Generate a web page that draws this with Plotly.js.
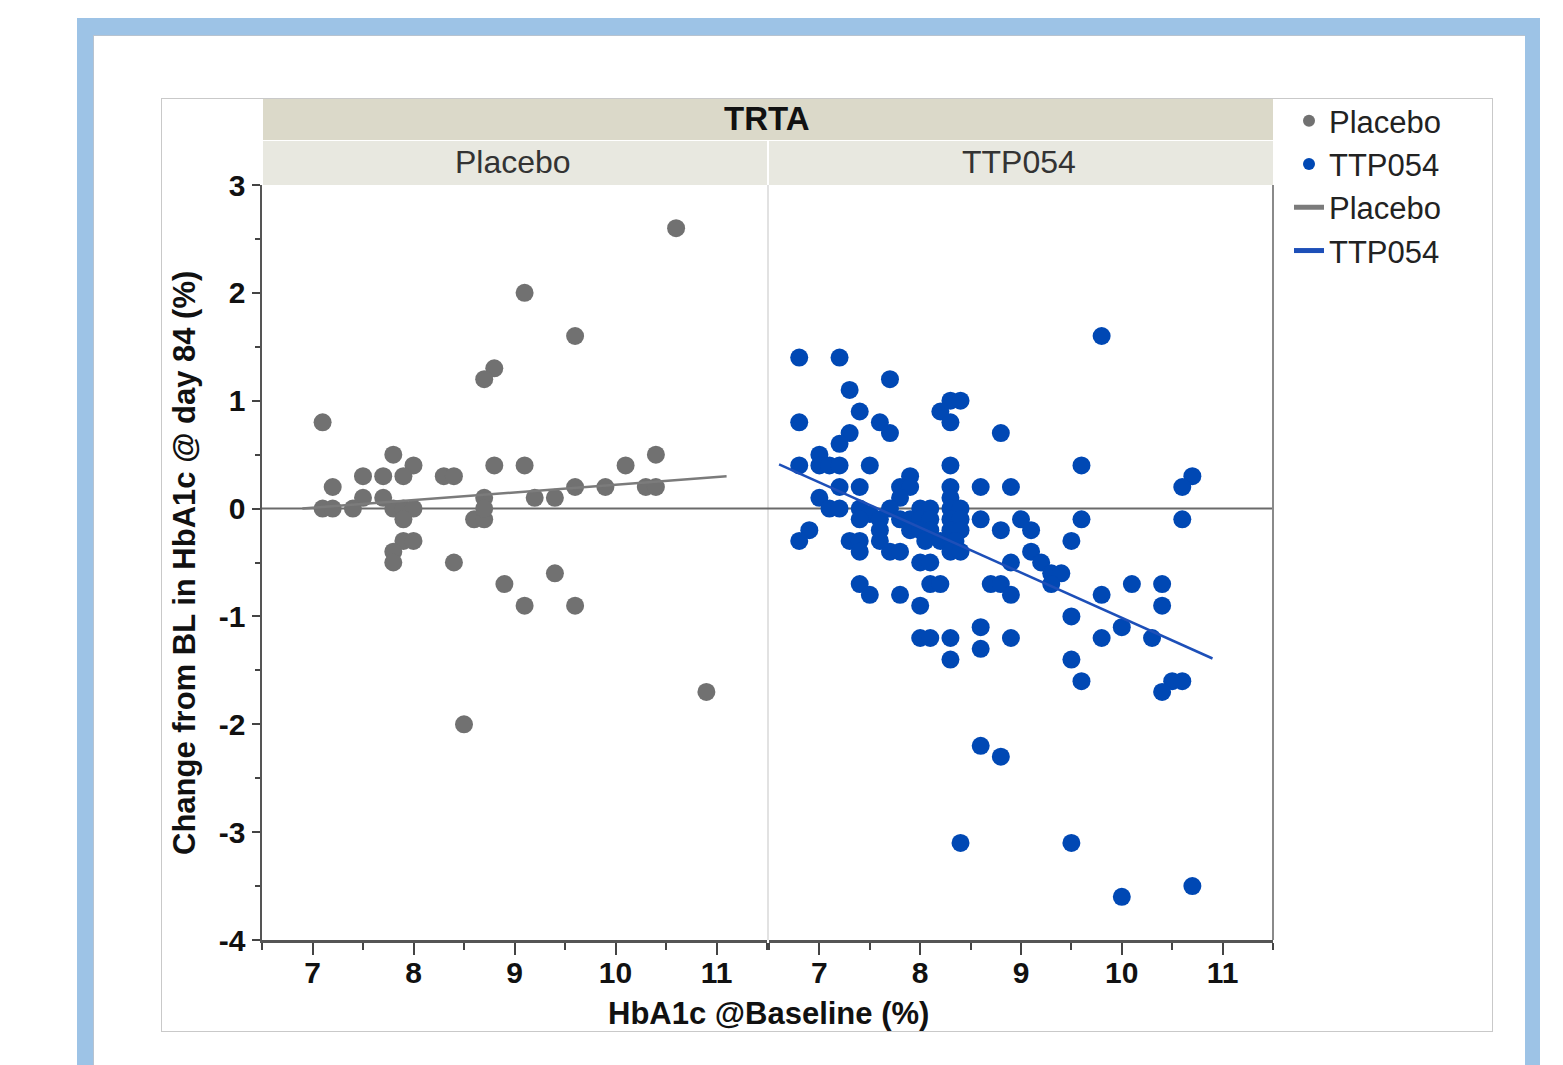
<!DOCTYPE html>
<html>
<head>
<meta charset="utf-8">
<script src="https://cdn.plot.ly/plotly-3.0.1.min.js"></script>
<style>
  html, body { margin:0; padding:0; background:#fff; }
  body { width:1563px; height:1065px; overflow:hidden; position:relative; }
  #frame { position:absolute; left:77px; top:18px; width:1463px; height:1100px; background:#9dc3e6; }
  #inner { position:absolute; left:93px; top:35px; width:1431px; height:1100px; background:#fff; border-left:1px solid #b7c3d0; border-top:1px solid #b7c3d0; }
  #box { position:absolute; left:161px; top:98px; width:1330px; height:932px; border:1px solid #c9c9c9; background:#fff; }
  #chart { position:absolute; left:0; top:0; width:1563px; height:1065px; }
</style>
</head>
<body>
<div id="frame"></div>
<div id="inner"></div>
<div id="box"></div>
<div id="chart"></div>
<script>
// ---- Data ----
const placeboX = [10.6, 9.1, 9.6, 8.8, 8.7, 7.1, 7.8, 8.0, 7.9, 7.5, 7.7, 8.3, 8.4, 8.8, 9.1, 10.1, 10.4,
  7.2, 7.5, 7.7, 8.7, 9.2, 9.4, 9.6, 9.9, 10.3, 10.4, 7.1, 7.2, 7.4, 7.8, 7.9, 8.0, 7.9, 8.6, 8.7, 8.7,
  7.9, 8.0, 7.8, 7.8, 8.4, 8.9, 9.4, 9.1, 9.6, 10.9, 8.5];
const placeboY = [2.6, 2.0, 1.6, 1.3, 1.2, 0.8, 0.5, 0.4, 0.3, 0.3, 0.3, 0.3, 0.3, 0.4, 0.4, 0.4, 0.5,
  0.2, 0.1, 0.1, 0.1, 0.1, 0.1, 0.2, 0.2, 0.2, 0.2, 0.0, 0.0, 0.0, 0.0, 0.0, 0.0, -0.1, -0.1, -0.1, 0.0,
  -0.3, -0.3, -0.4, -0.5, -0.5, -0.7, -0.6, -0.9, -0.9, -1.7, -2.0];

const ttpX = [9.8, 6.8, 7.2, 7.7, 7.3, 7.4, 8.3, 8.4, 8.2, 8.3, 6.8, 7.6, 7.7, 8.8, 7.3, 7.2, 7.0,
  7.0, 7.1, 7.2, 6.8, 7.5, 8.3, 9.6, 10.7, 7.9, 7.8, 7.9, 7.2, 7.4, 8.3, 8.6, 8.9, 10.6, 7.0, 7.8, 8.3,
  7.1, 7.2, 7.4, 7.5, 7.7, 8.0, 8.1, 8.3, 8.4, 9.6, 10.6, 9.0, 9.1, 8.8, 8.6, 9.5, 6.9, 6.8, 7.3, 7.4,
  7.4, 9.1, 8.9, 9.2, 9.3, 9.4, 8.0, 8.1, 7.4, 7.6, 7.8, 7.9, 8.0, 8.1, 8.3, 8.4, 7.6, 7.9, 8.0, 8.1,
  8.3, 8.4, 7.6, 8.05, 8.2, 8.35, 7.7, 7.8, 8.3, 8.4, 7.4, 7.5, 7.8, 8.1, 8.2, 8.0, 8.7, 8.8, 8.9, 9.3,
  9.8, 10.1, 10.4, 10.4, 9.5, 10.0, 9.8, 10.3, 8.0, 8.1, 8.3, 8.6, 8.9, 8.3, 8.6, 9.5, 9.6, 10.5, 10.6,
  10.4, 8.6, 8.8, 8.4, 9.5, 10.7, 10.0];
const ttpY = [1.6, 1.4, 1.4, 1.2, 1.1, 0.9, 1.0, 1.0, 0.9, 0.8, 0.8, 0.8, 0.7, 0.7, 0.7, 0.6, 0.5,
  0.4, 0.4, 0.4, 0.4, 0.4, 0.4, 0.4, 0.3, 0.3, 0.2, 0.2, 0.2, 0.2, 0.2, 0.2, 0.2, 0.2, 0.1, 0.1, 0.1,
  0.0, 0.0, 0.0, -0.05, 0.0, 0.0, 0.0, 0.0, 0.0, -0.1, -0.1, -0.1, -0.2, -0.2, -0.1, -0.3, -0.2, -0.3, -0.3, -0.3,
  -0.4, -0.4, -0.5, -0.5, -0.6, -0.6, -0.5, -0.5, -0.1, -0.1, -0.1, -0.1, -0.1, -0.1, -0.1, -0.1, -0.2, -0.2, -0.2, -0.2,
  -0.2, -0.2, -0.3, -0.3, -0.3, -0.3, -0.4, -0.4, -0.4, -0.4, -0.7, -0.8, -0.8, -0.7, -0.7, -0.9, -0.7, -0.7, -0.8, -0.7,
  -0.8, -0.7, -0.7, -0.9, -1.0, -1.1, -1.2, -1.2, -1.2, -1.2, -1.2, -1.1, -1.2, -1.4, -1.3, -1.4, -1.6, -1.6, -1.6,
  -1.7, -2.2, -2.3, -3.1, -3.1, -3.5, -3.6];

// Fit lines (end points)
const placeboLineX = [6.9, 11.1];
const placeboLineY = [0.0, 0.3];
const ttpLineX = [6.6, 10.9];
const ttpLineY = [0.41, -1.39];

// Tick labels
const xTickVals = [7, 8, 9, 10, 11];
const xTickText = ['7', '8', '9', '10', '11'];
const yTickVals = [-4, -3, -2, -1, 0, 1, 2, 3];
const yTickText = ['-4', '-3', '-2', '-1', '0', '1', '2', '3'];

const groupNames = ['Placebo', 'TTP054'];
const stripTitle = 'TRTA';
const xTitle = 'HbA1c @Baseline (%)';
const yTitle = 'Change from BL in HbA1c @ day 84 (%)';

// ---- Styles ----
const FONT = 'Arial, "Liberation Sans", sans-serif';
const GREY = '#717171';
const BLUE = '#0048b4';

const traces = [
  { type:'scatter', mode:'markers', name:groupNames[0], x:placeboX, y:placeboY, xaxis:'x', yaxis:'y',
    marker:{ color:GREY, size:18 }, hoverinfo:'x+y' },
  { type:'scatter', mode:'markers', name:groupNames[1], x:ttpX, y:ttpY, xaxis:'x2', yaxis:'y',
    marker:{ color:BLUE, size:18 }, hoverinfo:'x+y' },
  { type:'scatter', mode:'lines', name:groupNames[0], x:placeboLineX, y:placeboLineY, xaxis:'x', yaxis:'y',
    line:{ color:'#7b7b7b', width:2.5 } },
  { type:'scatter', mode:'lines', name:groupNames[1], x:ttpLineX, y:ttpLineY, xaxis:'x2', yaxis:'y',
    line:{ color:'#1d4fb8', width:2.5 } }
];

const W = 1011, H = 755, L = 262, T = 185;
const px = v => (v - L) / W;
const py = v => (T + H - v) / H;

const xCommon = {
  range:[6.5, 11.5], tickvals:xTickVals, ticktext:xTickText,
  ticks:'outside', ticklen:12, tickwidth:2, tickcolor:'#444',
  showline:true, linecolor:'#555', linewidth:3, showgrid:false, zeroline:false,
  ticklabelstandoff:-8,
  tickfont:{ family:FONT, size:30, color:'#111', weight:'bold' },
  minor:{ dtick:0.5, ticks:'outside', ticklen:7, tickwidth:2, tickcolor:'#444', showgrid:false },
  fixedrange:true
};

const layout = {
  width:1563, height:1065,
  margin:{ l:L, r:1563 - L - W, t:T, b:1065 - T - H, pad:0 },
  paper_bgcolor:'rgba(0,0,0,0)', plot_bgcolor:'rgba(0,0,0,0)',
  font:{ family:FONT, color:'#222' },
  showlegend:true,
  legend:{ x:px(1289), y:py(94), xanchor:'left', yanchor:'top', bgcolor:'rgba(0,0,0,0)',
           font:{ family:FONT, size:31, color:'#222' }, itemsizing:'constant', tracegroupgap:0 },
  xaxis: Object.assign({}, xCommon, { domain:[0, px(767)], anchor:'y' }),
  xaxis2: Object.assign({}, xCommon, { domain:[px(769), 1], anchor:'y' }),
  yaxis: {
    range:[-4, 3], tickvals:yTickVals, ticktext:yTickText,
    ticks:'outside', ticklen:8, tickwidth:2, tickcolor:'#444',
    showline:true, linecolor:'#555', linewidth:2.5, showgrid:false, zeroline:false,
    tickfont:{ family:FONT, size:30, color:'#111', weight:'bold' },
    minor:{ dtick:0.5, ticks:'outside', ticklen:5, tickwidth:2, tickcolor:'#444', showgrid:false },
    fixedrange:true
  },
  shapes:[
    { type:'rect', xref:'paper', yref:'paper', x0:px(263), x1:1, y0:py(140), y1:py(99),
      fillcolor:'#dbd9c9', line:{ width:0 } },
    { type:'rect', xref:'paper', yref:'paper', x0:px(263), x1:px(767), y0:1, y1:py(141),
      fillcolor:'#e8e8e0', line:{ width:0 } },
    { type:'rect', xref:'paper', yref:'paper', x0:px(769), x1:1, y0:1, y1:py(141),
      fillcolor:'#e8e8e0', line:{ width:0 } },
    { type:'line', xref:'paper', yref:'paper', x0:px(768), x1:px(768), y0:0, y1:1,
      line:{ color:'#e2e2e2', width:2 }, layer:'below' },
    { type:'line', xref:'paper', yref:'paper', x0:1, x1:1, y0:0, y1:1,
      line:{ color:'#8a8a8a', width:2 } },
    { type:'line', xref:'paper', yref:'y', x0:0, x1:1, y0:0, y1:0,
      line:{ color:'#6a6a6a', width:2 }, layer:'below' }
  ],
  annotations:[
    { text:'<b>' + stripTitle + '</b>', xref:'paper', yref:'paper', x:px(767), y:py(119),
      showarrow:false, font:{ family:FONT, size:33, color:'#111' }, xanchor:'center', yanchor:'middle' },
    { text:groupNames[0], xref:'paper', yref:'paper', x:px(513), y:py(162),
      showarrow:false, font:{ family:FONT, size:32, color:'#333' }, xanchor:'center', yanchor:'middle' },
    { text:groupNames[1], xref:'paper', yref:'paper', x:px(1019), y:py(162),
      showarrow:false, font:{ family:FONT, size:32, color:'#333' }, xanchor:'center', yanchor:'middle' },
    { text:'<b>' + xTitle + '</b>', xref:'paper', yref:'paper', x:px(768), y:py(1013),
      showarrow:false, font:{ family:FONT, size:31, color:'#111' }, xanchor:'center', yanchor:'middle' },
    { text:'<b>' + yTitle + '</b>', xref:'paper', yref:'paper', x:px(184), y:py(563), textangle:-90,
      showarrow:false, font:{ family:FONT, size:31, color:'#111' }, xanchor:'center', yanchor:'middle' }
  ]
};

Plotly.newPlot('chart', traces, layout, { displayModeBar:false, staticPlot:true });
</script>
</body>
</html>
